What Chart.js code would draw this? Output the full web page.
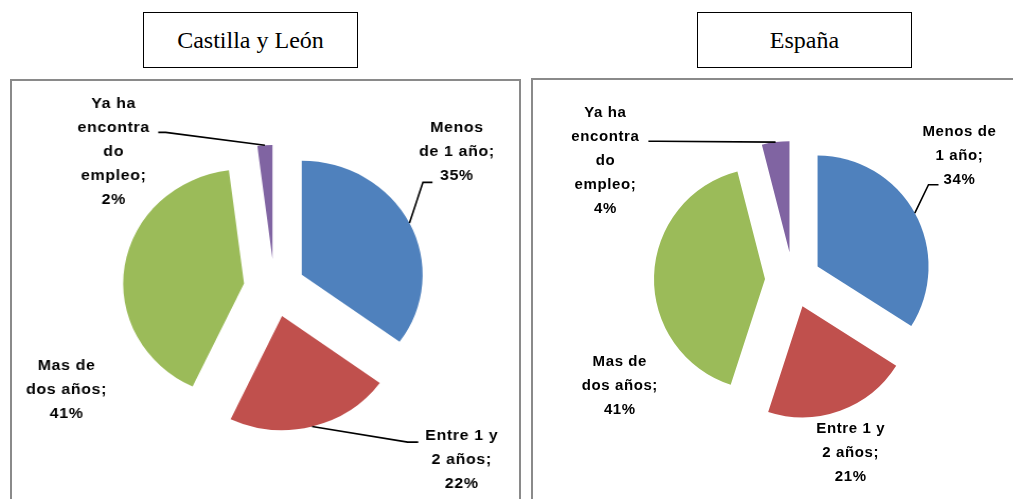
<!DOCTYPE html>
<html>
<head>
<meta charset="utf-8">
<script src="https://cdn.jsdelivr.net/npm/chart.js@4.4.0/dist/chart.umd.min.js"></script>
<style>
  html, body { margin: 0; padding: 0; background: #fff; width: 1013px; height: 499px; overflow: hidden; position: relative; }
  .title { position: absolute; top: 12px; width: 213px; height: 54px; border: 1px solid #000;
           font-family: "Liberation Serif", "Times New Roman", serif; font-size: 24px; line-height: 54px;
           text-align: center; color: #000; }
  .panel { position: absolute; border: 2px solid #8a8a8a; border-bottom: none; }
  canvas { position: absolute; transform-origin: 0 0; }
</style>
</head>
<body>
<div class="title" style="left:143px">Castilla y León</div>
<div class="title" style="left:697px">España</div>
<div class="panel" style="left:10px; top:79px; width:507px; height:430px"></div>
<div class="panel" style="left:531px; top:78px; width:500px; height:430px"></div>
<canvas id="cylChart" width="480" height="420" style="left:20px; top:78px; width:480px; height:420px; transform:scaleX(1.06)"></canvas>
<canvas id="espChart" width="480" height="420" style="left:553px; top:70px; width:480px; height:420px"></canvas>
<script>
// slices, in the order Excel draws them (clockwise from 12 o'clock)
const categories = ['Menos de 1 año', 'Entre 1 y 2 años', 'Mas de dos años', 'Ya ha encontrado empleo'];
const cylValues = [35, 22, 41, 2];
const espValues = [34, 21, 41, 4];
const sliceColors = ['#4F81BD', '#C0504D', '#9BBB59', '#8064A2'];

// label text as Excel wrapped it (percentage is added from the data)
const cylLabelLines = [['Menos', 'de 1 año;'], ['Entre 1 y', '2 años;'], ['Mas de', 'dos años;'], ['Ya ha', 'encontra', 'do', 'empleo;']];
const espLabelLines = [['Menos de', '1 año;'], ['Entre 1 y', '2 años;'], ['Mas de', 'dos años;'], ['Ya ha', 'encontra', 'do', 'empleo;']];

// label placement, in units of the pie radius from its centre
const cylLabelPos = [[1.51, -1.19], [1.55, 1.51], [-1.72, 0.89], [-1.33, -1.19]];
const espLabelPos = [[1.50, -1.12], [0.52, 1.56], [-1.56, 0.95], [-1.69, -1.07]];
// leader line ends, px from the label centre (null = no leader)
const cylLeaders = [[[-32, 30], [-23, 30]], [[-51, -18], [-41, -18]], null, [[49, -20], [42, -20]]];
const espLeaders = [[[-31, 29], [-21, 29]], null, null, [[53, -20], [43, -20]]];

// pulls every slice away from the centre (Excel "explode")
const explodePlugin = {
  id: 'explode',
  beforeDatasetDraw(chart, args, opts) {
    const ctx = chart.ctx;
    args.meta.data.forEach(arc => {
      const mid = (arc.startAngle + arc.endAngle) / 2;
      ctx.save();
      ctx.translate(Math.cos(mid) * opts.distance, Math.sin(mid) * opts.distance);
      arc.draw(ctx);
      ctx.restore();
    });
    return false;
  }
};

const labelPlugin = {
  id: 'sliceLabels',
  afterDatasetsDraw(chart, args, opts) {
    const ctx = chart.ctx;
    const meta = chart.getDatasetMeta(0);
    const values = chart.data.datasets[0].data;
    const dist = chart.options.plugins.explode.distance;
    ctx.save();
    ctx.font = 'bold 15px "Liberation Sans", Arial, sans-serif';
    if ('letterSpacing' in ctx) ctx.letterSpacing = '0.6px';
    ctx.fillStyle = '#000';
    ctx.strokeStyle = '#000';
    ctx.lineWidth = 1.6;
    ctx.textAlign = 'center';
    ctx.textBaseline = 'middle';
    meta.data.forEach((arc, i) => {
      const r = arc.outerRadius;
      const lx = arc.x + opts.pos[i][0] * r;
      const ly = arc.y + opts.pos[i][1] * r;
      const lead = opts.leaders[i];
      if (lead) {
        const mid = (arc.startAngle + arc.endAngle) / 2;
        const ex = arc.x + Math.cos(mid) * (r + dist);
        const ey = arc.y + Math.sin(mid) * (r + dist);
        ctx.beginPath();
        ctx.moveTo(ex, ey);
        ctx.lineTo(lx + lead[0][0], ly + lead[0][1]);
        ctx.lineTo(lx + lead[1][0], ly + lead[1][1]);
        ctx.stroke();
      }
      const lines = opts.lines[i].concat([values[i] + '%']);
      const lh = 24;
      lines.forEach((t, k) => {
        ctx.fillText(t, lx, ly + (k - (lines.length - 1) / 2) * lh);
      });
    });
    ctx.restore();
  }
};

function makePie(id, values, radius, distance, lines, pos, leaders) {
  return new Chart(document.getElementById(id), {
    type: 'pie',
    data: {
      labels: categories,
      datasets: [{
        data: values,
        backgroundColor: sliceColors,
        borderWidth: 0
      }]
    },
    options: {
      responsive: false,
      animation: false,
      radius: radius,
      layout: { padding: 0 },
      plugins: {
        legend: { display: false },
        tooltip: { enabled: false },
        explode: { distance: distance },
        sliceLabels: { lines: lines, pos: pos, leaders: leaders }
      }
    },
    plugins: [explodePlugin, labelPlugin]
  });
}

makePie('cylChart', cylValues, 114, 29, cylLabelLines, cylLabelPos, cylLeaders);
makePie('espChart', espValues, 111, 28, espLabelLines, espLabelPos, espLeaders);
</script>
</body>
</html>
